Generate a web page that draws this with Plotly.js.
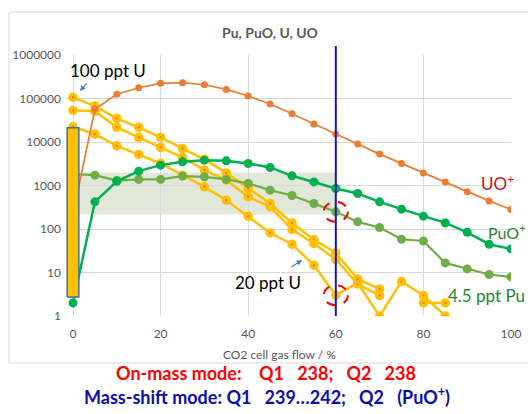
<!DOCTYPE html>
<html>
<head>
<meta charset="utf-8">
<script src="https://cdn.plot.ly/plotly-3.0.1.min.js"></script>
<style>html,body{margin:0;padding:0;background:#fff;}#chart{width:528px;height:414px;}</style>
</head>
<body>
<div id="chart"></div>
<script>
// ---- data ----
const flow = [0,5,10,15,20,25,30,35,40,45,50,55,60,65,70,75,80,85,90,95,100];
const uoPlus = [220,56300,125000,177000,223000,231000,207000,162000,114000,74500,44500,25800,15200,8950,5270,3220,1950,1210,715,443,281];
const puoPlus = [2.0,421,1250,2140,2940,3500,3830,3690,3210,2600,1670,1210,855,656,421,286,197,138,84,44.7,34.8];
const pu45 = [1820,1730,1300,1380,1380,1640,1585,1380,1115,782,590,386,248,146,108,58,53,16.6,12.1,9.0,7.9];
const uHigh = [106000,67000,34900,21700,12800,7130,3980,1950,855,386,138,57.3,28.2,7.1,4.2,null,2.0,2.0];
const uMid = [53300,51400,21700,12800,7510,4420,2260,1330,548,323,97.4,46.4,19.9,5.45,2.95];
const uLow = [22400,15200,8180,5190,3220,1730,931,460,197,81.3,44.7,14.7,3.0,5.75,1.0,6.2,2.95,1.0];
const rangeBarX = [0];
const rangeBarLow = [2.74];
const rangeBarHigh = [21200];
const bandX = [0, 60];
const bandY = [215, 2000];
const markerFlow = [60];
const yTickVals = [1,10,100,1000,10000,100000,1000000];
const yTickText = ['1','10','100','1000','10000','100000','1000000'];
const xTickVals = [0,20,40,60,80,100];
const xTickText = ['0','20','40','60','80','100'];

// ---- layout geometry ----
const W = 528, H = 414, L = 66, R = 17, T = 55, B = 98;
const PW = W - L - R, PH = H - T - B;
const px = x => (x - L) / PW;
const py = y => (H - B - y) / PH;
const FONT = 'Lato, "Open Sans", sans-serif';

const yellowMarker = {size: 6, color: '#ef7f22', line: {color: '#ffc000', width: 3.5}};
const yellowLine = {color: '#ffc000', width: 2.5};

function sub(arr){ return flow.slice(0, arr.length); }

const barHalf = 1.33;
const bx = rangeBarX[0];
const traces = [
  {x: sub(uLow), y: uLow, mode: 'lines+markers', line: yellowLine, marker: yellowMarker, connectgaps: false},
  {x: sub(uMid), y: uMid, mode: 'lines+markers', line: yellowLine, marker: yellowMarker, connectgaps: false},
  {x: sub(uHigh), y: uHigh, mode: 'lines+markers', line: yellowLine, marker: yellowMarker, connectgaps: false},
  {x: flow, y: pu45, mode: 'lines+markers', line: {color: '#70ad47', width: 2.2}, marker: {size: 9, color: '#70ad47'}},
  {x: flow, y: puoPlus, mode: 'lines+markers', line: {color: '#00b050', width: 2.5}, marker: {size: 9, color: '#00b050'}},
  {x: flow, y: uoPlus, mode: 'lines+markers', line: {color: '#ed7d31', width: 1.7}, marker: {size: 7, color: '#ed7d31'}},
  {x: [bx - barHalf, bx + barHalf, bx + barHalf, bx - barHalf, bx - barHalf],
   y: [rangeBarLow[0], rangeBarLow[0], rangeBarHigh[0], rangeBarHigh[0], rangeBarLow[0]],
   mode: 'lines', fill: 'toself', fillcolor: '#ffc000', line: {color: '#41719c', width: 1.5}, hoverinfo: 'skip'}
];

// dashed ring around a data point: half-width in x units, multiplicative half-height on the log axis
const ringDx = 2.75, ringFy = 1.7;
function ring(xv, yv) {
  return {type: 'circle', xref: 'x', yref: 'y', x0: xv - ringDx, x1: xv + ringDx, y0: yv / ringFy, y1: yv * ringFy,
          line: {color: '#ff0000', width: 2, dash: 'dash'}};
}
const mi = flow.indexOf(markerFlow[0]);

const shapes = [
  {type: 'rect', xref: 'paper', yref: 'paper', x0: px(9), x1: px(560), y0: py(363), y1: py(12),
   line: {color: '#d9d9d9', width: 1}, fillcolor: 'rgba(0,0,0,0)', layer: 'below'},
  {type: 'rect', xref: 'x', yref: 'y', x0: bandX[0], x1: bandX[1], y0: bandY[0], y1: bandY[1],
   fillcolor: '#e2e8d9', line: {width: 0}, layer: 'below'},
  {type: 'line', xref: 'x', yref: 'paper', x0: markerFlow[0], x1: markerFlow[0], y0: 0, y1: py(46),
   line: {color: '#1414c0', width: 2}},
  ring(markerFlow[0], pu45[mi]),
  ring(markerFlow[0], uLow[mi])
];

const nb = '\u00a0';
const annotations = [
  {xref: 'paper', yref: 'paper', x: px(108), y: py(71), text: '100 ppt U', showarrow: false,
   xanchor: 'center', yanchor: 'middle', font: {family: FONT, size: 17, color: '#000'}},
  {xref: 'paper', yref: 'paper', x: px(80), y: py(91), text: '', showarrow: true, ax: 8, ay: -9,
   arrowhead: 2, arrowsize: 0.9, arrowwidth: 1.2, arrowcolor: '#4a7cc4'},
  {xref: 'paper', yref: 'paper', x: px(268), y: py(282), text: '20 ppt U', showarrow: false,
   xanchor: 'center', yanchor: 'middle', font: {family: FONT, size: 17, color: '#000'}},
  {xref: 'paper', yref: 'paper', x: px(302), y: py(260), text: '', showarrow: true, ax: -12, ay: 8,
   arrowhead: 2, arrowsize: 0.9, arrowwidth: 1.2, arrowcolor: '#4a7cc4'},
  {xref: 'paper', yref: 'paper', x: px(479), y: py(182), text: 'UO<sup>+</sup>', showarrow: false,
   xanchor: 'left', yanchor: 'middle', font: {family: FONT, size: 17, color: '#c0161c'}},
  {xref: 'paper', yref: 'paper', x: px(486), y: py(231), text: 'PuO<sup>+</sup>', showarrow: false,
   xanchor: 'left', yanchor: 'middle', font: {family: FONT, size: 16, color: '#23862f'}},
  {xref: 'paper', yref: 'paper', x: px(446), y: py(295), text: '4.5 ppt Pu', showarrow: false,
   xanchor: 'left', yanchor: 'middle', font: {family: FONT, size: 17, color: '#23862f'}},
  {xref: 'paper', yref: 'paper', x: px(279), y: py(354), text: 'CO2 cell gas flow / %', showarrow: false,
   xanchor: 'center', yanchor: 'middle', font: {family: FONT, size: 12, color: '#595959'}},
  {xref: 'paper', yref: 'paper', x: px(266), y: py(373),
   text: 'On-mass mode:' + nb.repeat(4) + 'Q1' + nb.repeat(3) + '238;' + nb.repeat(3) + 'Q2' + nb.repeat(3) + '238',
   showarrow: false, xanchor: 'center', yanchor: 'middle', font: {family: FONT, size: 18, color: '#ff0000', weight: 'bold'}},
  {xref: 'paper', yref: 'paper', x: px(267), y: py(396),
   text: 'Mass-shift mode: Q1' + nb.repeat(3) + '239\u2026242;' + nb.repeat(3) + 'Q2' + nb.repeat(3) + '(PuO<sup>+</sup>)',
   showarrow: false, xanchor: 'center', yanchor: 'middle', font: {family: FONT, size: 18, color: '#0c0cb0', weight: 'bold'}}
];

const layout = {
  width: W, height: H,
  margin: {l: L, r: R, t: T, b: B, pad: 0},
  paper_bgcolor: '#fff', plot_bgcolor: '#fff',
  showlegend: false,
  font: {family: FONT, color: '#595959'},
  title: {text: 'Pu, PuO, U, UO', xref: 'container', yref: 'container', x: 270 / W, y: 1 - 33 / H,
          xanchor: 'center', yanchor: 'middle', font: {family: FONT, size: 14, color: '#595959', weight: 'bold'}},
  xaxis: {range: [-1.6, 100], tickmode: 'array', tickvals: xTickVals, ticktext: xTickText,
          showgrid: true, gridcolor: '#d9d9d9', gridwidth: 1, zeroline: false, showline: false,
          ticks: '', ticklabelstandoff: 9, tickfont: {family: FONT, size: 12, color: '#595959'}},
  yaxis: {type: 'log', range: [0, 6], tickmode: 'array', tickvals: yTickVals, ticktext: yTickText,
          showgrid: true, gridcolor: '#d9d9d9', gridwidth: 1, zeroline: false, showline: false,
          ticks: '', ticklabelstandoff: 4, tickfont: {family: FONT, size: 12, color: '#595959'}},
  shapes: shapes,
  annotations: annotations
};

Plotly.newPlot('chart', traces, layout, {staticPlot: true, displayModeBar: false});
</script>
</body>
</html>
